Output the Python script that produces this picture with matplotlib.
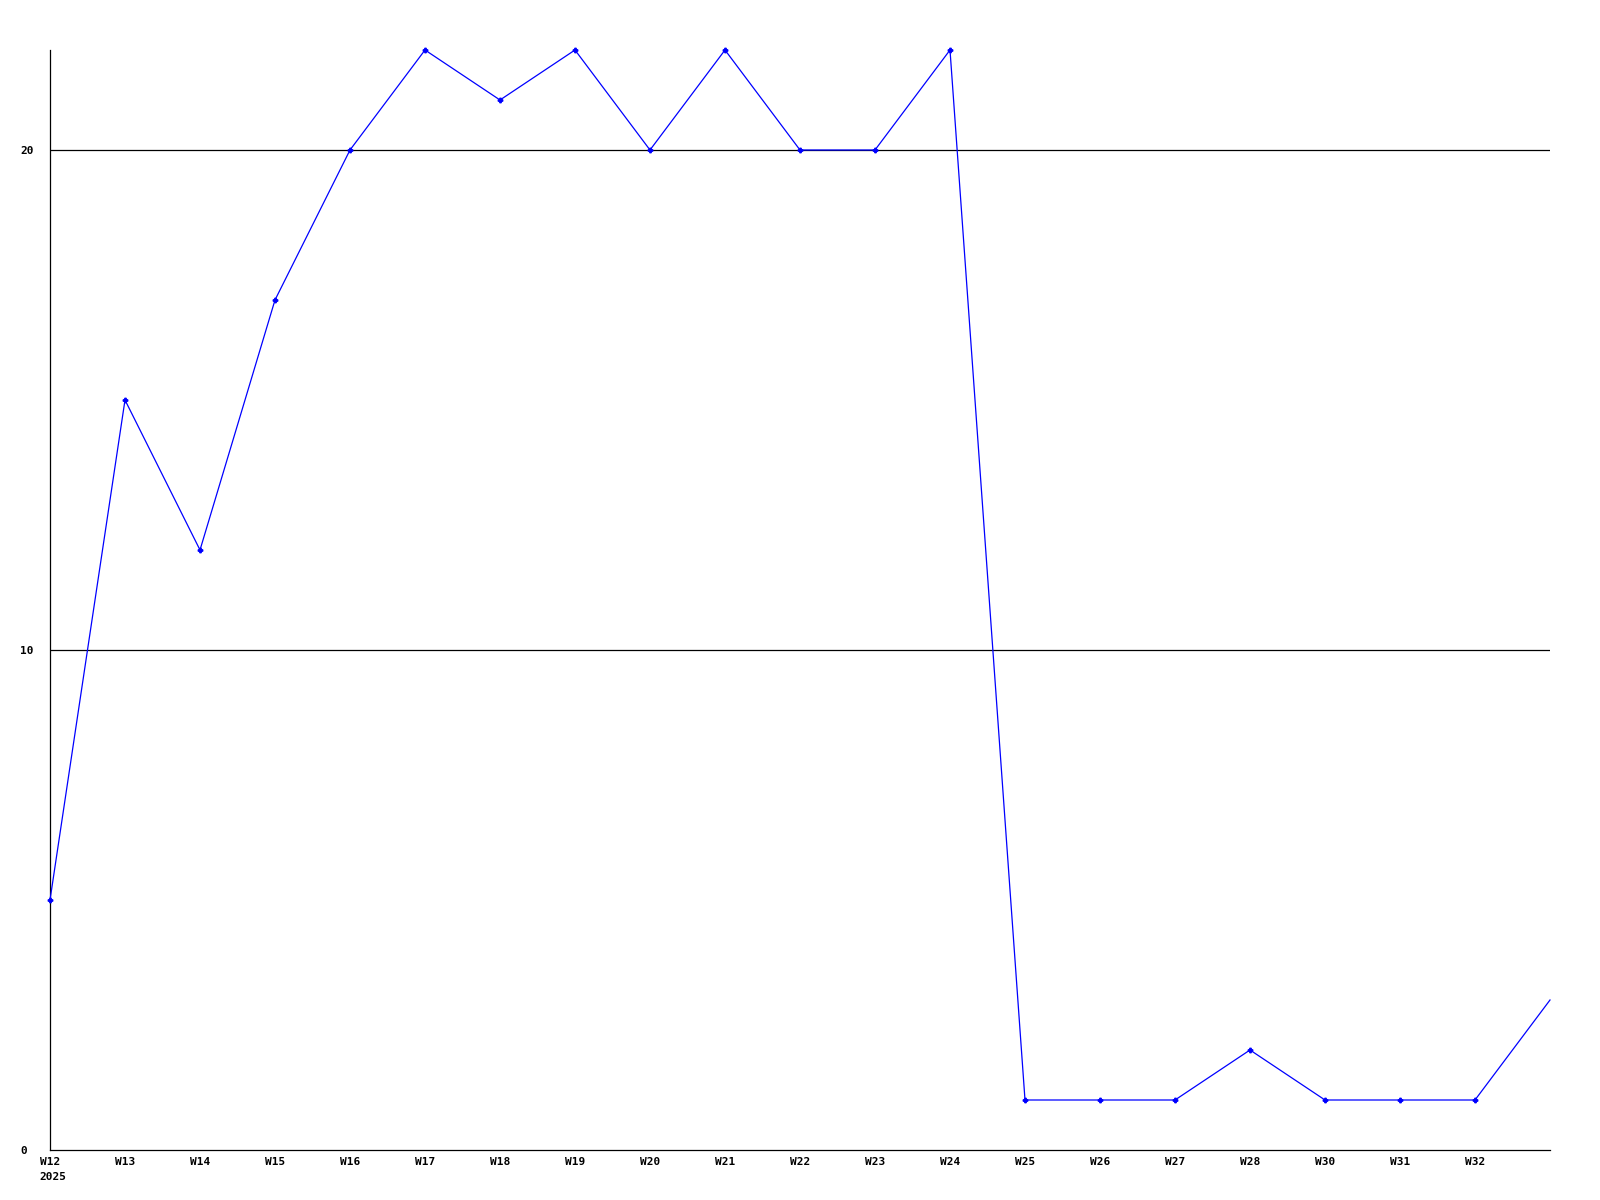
import matplotlib
matplotlib.use("Agg")
import matplotlib.pyplot as plt

weeks = ["W12", "W13", "W14", "W15", "W16", "W17", "W18", "W19", "W20", "W21",
         "W22", "W23", "W24", "W25", "W26", "W27", "W28", "W30", "W31", "W32"]
values = [5, 15, 12, 17, 20, 22, 21, 22, 20, 22, 20, 20, 22, 1, 1, 1, 2, 1, 1, 1]
tail_value = 3  # partial next period, drawn to the right edge
year_label = "2025"
yticks = [0, 10, 20]

fig = plt.figure(figsize=(16, 12), dpi=100)
ax = fig.add_axes([50/1600, 50/1200, 1500/1600, 1100/1200])

xs = list(range(len(values))) + [len(values)]
ys = values + [tail_value]
ax.plot(xs, ys, color="#0000ff", linewidth=0.9, marker="P", markersize=3.2,
        markevery=list(range(len(values))), clip_on=False, zorder=3)

ax.set_xlim(0, len(values))
ax.set_ylim(0, 22)

for y in yticks[1:]:
    ax.axhline(y, color="black", linewidth=0.9, zorder=1)

for s in ["top", "right"]:
    ax.spines[s].set_visible(False)
for s in ["left", "bottom"]:
    ax.spines[s].set_color("black")
    ax.spines[s].set_linewidth(0.9)

font = dict(family="DejaVu Sans Mono", weight="bold", size=8)
ax.set_xticks(range(len(weeks)))
ax.set_xticklabels(weeks, **font)
ax.set_yticks(yticks)
ax.set_yticklabels([str(v) for v in yticks], **font)
ax.tick_params(axis="both", length=0)
ax.tick_params(axis="x", pad=5)
ax.tick_params(axis="y", pad=21.6)
for lab in ax.get_yticklabels():
    lab.set_horizontalalignment("left")

ax.annotate(year_label, xy=(0, 0), xycoords="data", xytext=(-8, -16),
            textcoords="offset points", ha="left", va="top", **font)

fig.savefig("out.png", dpi=100, facecolor="white")
